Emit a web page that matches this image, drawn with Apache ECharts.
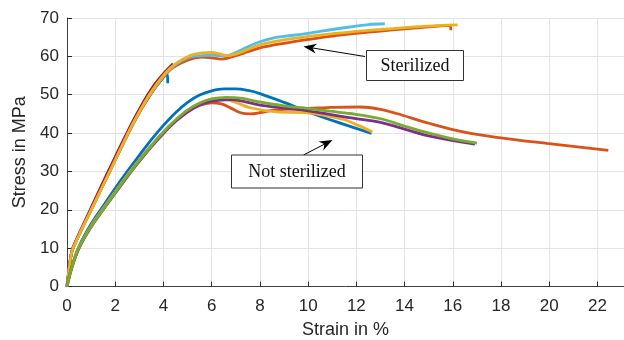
<!DOCTYPE html>
<html>
<head>
<meta charset="utf-8">
<script src="https://cdn.jsdelivr.net/npm/echarts@6/dist/echarts.min.js"></script>
<style>
    html, body { margin: 0; padding: 0; background: #fff; }
    #chart { width: 624px; height: 340px; }
</style>
</head>
<body>
<div id="chart"></div>
<script>
// strain (%) / stress (MPa) pairs
const sterBlue = [[0,0],[0.15,7.5],[0.25,10],[1.0,20],[1.77,30],[2.81,43.3],[3.5,50.5],[4.0,54.5],[4.15,55.5],[4.18,53]];
const sterRed = [[0,0],[0.15,7.5],[0.25,10],[1.0,20],[1.77,30],[2.81,43.2],[3.5,50.4],[4.26,56.4],[5.0,59],[5.6,59.8],[6.0,59.6],[6.4,59.3],[7.0,60.2],[7.5,61.2],[8,62.2],[9,63.4],[10,64.4],[11,65.3],[12,66],[13,66.6],[14,67.2],[15,67.7],[15.88,68.1],[15.92,66.8]];
const sterLightBlue = [[0,0],[0.15,7.5],[0.25,10],[1.0,20],[1.77,30],[2.81,43.4],[3.5,50.6],[4.26,56.6],[5.0,59.6],[5.6,60.2],[6.0,60.3],[6.6,60.1],[7.0,61],[7.5,62.5],[8,63.8],[8.5,64.7],[9,65.2],[10,66],[11,67],[12,67.9],[12.5,68.3],[13.18,68.5]];
const sterDarkRed = [[0,0],[0.15,7.5],[0.25,10.2],[1.0,20.5],[1.77,30.8],[2.81,44],[3.5,51.5],[4.0,55.5],[4.4,58.1]];
const sterYellow = [[0,0],[0.15,7.5],[0.25,10],[1.0,20],[1.77,30],[2.3,37],[2.81,43.4],[3.5,50.8],[4.26,56.8],[5.0,59.9],[5.6,60.9],[6.0,61.0],[6.3,60.7],[6.6,60.2],[7.0,60.6],[7.5,61.8],[8,63],[9,64.3],[10,65.2],[11,65.9],[12,66.5],[13,67],[14,67.5],[15,67.9],[16.2,68.2]];

const notBlue = [[0,0],[0.2,5.2],[0.5,10.5],[1,16.3],[1.5,21],[2,25.6],[2.5,30],[3,34.2],[3.5,38.3],[4,42],[4.5,45.3],[5,48],[5.5,49.9],[6,51],[6.5,51.5],[7,51.5],[7.5,51.1],[8,50.3],[9,48],[10,45.5],[11.18,42.9],[12.63,39.9]];
const notRed = [[0,0],[0.2,5],[0.5,10.2],[1,15.8],[1.5,20.3],[2,24.7],[2.5,29],[3,33],[3.5,36.8],[4,40.2],[4.5,43.2],[5,45.6],[5.5,47.2],[6,47.9],[6.4,47.6],[6.8,46.5],[7.2,45.3],[7.6,45],[8,45.3],[8.5,45.9],[9,46.2],[10,46.4],[11,46.7],[12.15,46.8],[13,46.2],[13.67,45.1],[15.05,42.5],[16.43,40.3],[17.82,38.9],[19.9,37.3],[22.45,35.5]];
const notYellow = [[0,0],[0.2,5],[0.5,10.2],[1,15.8],[1.5,20.3],[2,24.7],[2.5,29],[3,33],[3.5,36.8],[4,40.3],[4.5,43.4],[5,46],[5.5,47.8],[6,48.8],[6.4,48.9],[7,48],[7.6,46.6],[8.7,45.5],[10,45.3],[11.44,43.6],[12,42.2],[12.67,40.3]];
const notPurple = [[0,0],[0.2,4.9],[0.5,10],[1,15.5],[1.5,20],[2,24.3],[2.5,28.6],[3,32.6],[3.5,36.4],[4,39.9],[4.5,43],[5,45.5],[5.5,47.3],[6,48.3],[6.8,48.7],[8,47.3],[9,46.5],[10,45.8],[11.7,44],[13,42.8],[15.05,39.2],[16.92,37.1]];
const notGreen = [[0,0],[0.2,5],[0.5,10.2],[1,15.6],[1.5,20.1],[2,24.5],[2.5,28.8],[3,32.9],[3.5,36.7],[4,40.3],[4.5,43.4],[5,46],[5.5,47.8],[6,48.9],[6.6,49.3],[7.2,49.1],[8,48.1],[9,47.1],[10,46.4],[10.9,45.7],[11.73,45.1],[12.97,43.8],[14,41.8],[15.05,39.9],[16,38.5],[17,37.4]];

const xTicks = [0, 2, 4, 6, 8, 10, 12, 14, 16, 18, 20, 22];

const curves = [
    { data: sterBlue, color: '#0072BD' },
    { data: sterRed, color: '#D95319' },
    { data: sterLightBlue, color: '#4DBEEE' },
    { data: sterDarkRed, color: '#A2142F' },
    { data: sterYellow, color: '#EDB120' },
    { data: notBlue, color: '#0072BD' },
    { data: notRed, color: '#D95319' },
    { data: notYellow, color: '#EDB120' },
    { data: notPurple, color: '#7E2F8E' },
    { data: notGreen, color: '#77AC30' }
];

// little arrow made of a line and a notched head
function arrow(tail, tip) {
    const dx = tip[0] - tail[0], dy = tip[1] - tail[1];
    const len = Math.sqrt(dx * dx + dy * dy);
    const ux = dx / len, uy = dy / len;
    const nx = -uy, ny = ux;
    const L = 13, w = 5;
    const back = [tip[0] - L * ux, tip[1] - L * uy];
    return [
        { type: 'line', shape: { x1: tail[0], y1: tail[1], x2: tip[0] - 6 * ux, y2: tip[1] - 6 * uy },
          style: { stroke: '#000', lineWidth: 1 }, z: 100 },
        { type: 'polygon', z: 100, shape: { points: [
            tip,
            [back[0] + w * nx, back[1] + w * ny],
            [tip[0] - 0.7 * L * ux, tip[1] - 0.7 * L * uy],
            [back[0] - w * nx, back[1] - w * ny]
        ] }, style: { fill: '#000' } }
    ];
}

function labelBox(x, y, w, h, text) {
    return [
        { type: 'rect', z: 100, shape: { x: x, y: y, width: w, height: h },
          style: { fill: '#fff', stroke: '#333', lineWidth: 1 } },
        { type: 'text', z: 101, x: x + w / 2, y: y + h / 2 + 1,
          style: { text: text, fontFamily: 'Liberation Serif', fontSize: 18, fill: '#111',
                   align: 'center', verticalAlign: 'middle' } }
    ];
}

const axisFont = 'Liberation Sans';

let myChart = echarts.init(document.getElementById('chart'));

let option = {
    animation: false,
    backgroundColor: '#fff',
    grid: { left: 67, right: 0, top: 18, bottom: 53.5, outerBoundsMode: 'none', containLabel: false },
    xAxis: {
        type: 'value',
        min: 0,
        max: 23.1,
        interval: 2,
        name: 'Strain in %',
        nameLocation: 'middle',
        nameGap: 35,
        nameTextStyle: { fontFamily: axisFont, fontSize: 18, color: '#262626' },
        axisLine: { show: true, lineStyle: { color: '#404040', width: 1 } },
        axisTick: { show: true, inside: true, length: 5, lineStyle: { color: '#262626' } },
        axisLabel: {
            fontFamily: axisFont, fontSize: 17, color: '#262626', margin: 11,
            formatter: v => xTicks.includes(v) ? String(v) : ''
        },
        splitLine: { show: true, lineStyle: { color: '#e3e3e3', width: 1 } }
    },
    yAxis: {
        type: 'value',
        min: 0,
        max: 70,
        interval: 10,
        name: 'Stress in MPa',
        nameLocation: 'middle',
        nameGap: 26,
        nameTextStyle: { fontFamily: axisFont, fontSize: 18, color: '#262626' },
        axisLine: { show: true, lineStyle: { color: '#404040', width: 1 } },
        axisTick: { show: true, inside: true, length: 5, lineStyle: { color: '#262626' } },
        axisLabel: { fontFamily: axisFont, fontSize: 17, color: '#262626', margin: 8 },
        splitLine: { show: true, lineStyle: { color: '#e3e3e3', width: 1 } }
    },
    series: curves.map(c => ({
        type: 'line',
        data: c.data,
        smooth: 0.35,
        showSymbol: false,
        clip: true,
        lineStyle: { color: c.color, width: 2.8 },
        itemStyle: { color: c.color }
    })),
    graphic: [].concat(
        arrow([365, 56.5], [303.5, 46.5]),
        labelBox(366.5, 50.5, 97, 30, 'Sterilized'),
        arrow([303.5, 155], [332.5, 140]),
        labelBox(231.5, 155, 131, 33, 'Not sterilized')
    )
};

myChart.setOption(option);
</script>
</body>
</html>
